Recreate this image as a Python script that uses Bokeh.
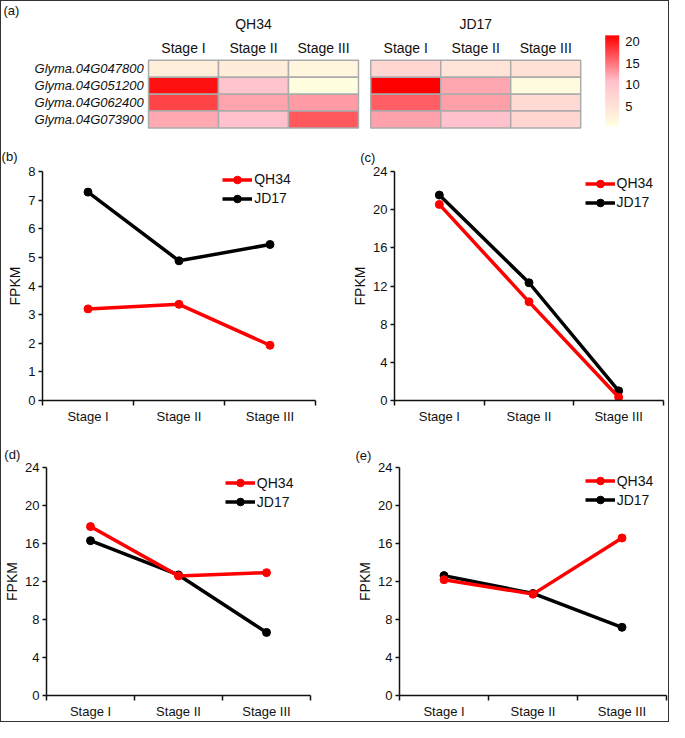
import numpy as np
from bokeh.plotting import figure
from bokeh.models import (Range1d, LinearColorMapper, ColorBar, FixedTicker,
                          Label, Legend, LegendItem, ColumnDataSource)
from bokeh.layouts import column, row
from bokeh.core.properties import value
from bokeh.embed import file_html
from bokeh.resources import INLINE

# ---------------- data ----------------
stages = ["Stage I", "Stage II", "Stage III"]
cultivars = ["QH34", "JD17"]
genes = ["Glyma.04G047800", "Glyma.04G051200", "Glyma.04G062400", "Glyma.04G073900"]
panel_tags = ["(b)", "(c)", "(d)", "(e)"]

qh34_g047800 = [3.20, 3.36, 1.93]
jd17_g047800 = [7.28, 4.88, 5.45]
qh34_g051200 = [20.55, 10.34, 0.34]
jd17_g051200 = [21.53, 12.34, 1.01]
qh34_g062400 = [17.78, 12.59, 12.93]
jd17_g062400 = [16.30, 12.69, 6.64]
qh34_g073900 = [12.19, 10.67, 16.58]
jd17_g073900 = [12.62, 10.74, 7.18]

qh34_series = [qh34_g047800, qh34_g051200, qh34_g062400, qh34_g073900]
jd17_series = [jd17_g047800, jd17_g051200, jd17_g062400, jd17_g073900]

y_axis_max = [8, 24, 24, 24]
y_axis_step = [1, 4, 4, 4]
colorbar_ticks = [5, 10, 15, 20]

# ---------------- layout / style ----------------
FONT = "Liberation Sans"
REF_W, REF_H = 685, 738
W, H = 667, 720
SX, SY = W / REF_W, H / REF_H


def X(v):
    return v * SX


def Y(v):
    return v * SY


def ramp(cols, n=256):
    out = []
    for i in range(n):
        t = i / (n - 1) * (len(cols) - 1)
        k = min(int(t), len(cols) - 2)
        f = t - k
        c = [round(a + (b - a) * f) for a, b in zip(cols[k], cols[k + 1])]
        out.append("#%02x%02x%02x" % tuple(c))
    return out


palette = ramp([(255, 255, 224), (255, 192, 203), (255, 0, 0)])

# ---------------- heatmap (a) ----------------
top_ref_h = 140
top_h = round(Y(top_ref_h))
cell_w = 71.87
cells_x0 = 151.0
gap_units = 12.6 / cell_w
row_h = 17.33
cells_y0 = 60.0

hm = figure(width=W, height=top_h,
            x_range=Range1d(-cells_x0 / cell_w, (REF_W - cells_x0) / cell_w),
            y_range=Range1d((top_ref_h - cells_y0) / row_h, -cells_y0 / row_h),
            x_axis_location=None, y_axis_location=None,
            output_backend="svg", toolbar_location=None, min_border=0)
hm.grid.visible = False
hm.outline_line_color = None

hx, hy, hv = [], [], []
for gi, (q, j) in enumerate(zip(qh34_series, jd17_series)):
    for ci, series in enumerate([q, j]):
        for si, v in enumerate(series):
            hx.append(ci * (len(stages) + gap_units) + si + 0.5)
            hy.append(gi + 0.5)
            hv.append(v)
src = ColumnDataSource(dict(x=hx, y=hy, v=hv))
mapper = LinearColorMapper(palette=palette, low=min(hv), high=max(hv))
hm.rect(x="x", y="y", width=1, height=1, source=src,
        fill_color={"field": "v", "transform": mapper},
        line_color="#ABABAB", line_width=1.5)

hm.text(x=[0] * len(genes), y=[i + 0.5 for i in range(len(genes))], text=genes,
        x_offset=-X(5), text_align="right", text_baseline="middle",
        text_font=value(FONT), text_font_style="italic", text_font_size="13px",
        text_color="#111111")
sx_lab, st_lab = [], []
for ci in range(len(cultivars)):
    for si, s in enumerate(stages):
        sx_lab.append(ci * (len(stages) + gap_units) + si + 0.5)
        st_lab.append(s)
hm.text(x=sx_lab, y=[0] * len(sx_lab), text=st_lab, y_offset=-Y(12.3),
        text_align="center", text_baseline="middle",
        text_font=value(FONT), text_font_size="14px", text_color="#111111")
hm.text(x=[ci * (len(stages) + gap_units) + len(stages) / 2 for ci in range(len(cultivars))],
        y=[0] * len(cultivars), text=cultivars, y_offset=-Y(37.3),
        text_align="center", text_baseline="middle",
        text_font=value(FONT), text_font_size="14px", text_color="#111111")

cb = ColorBar(color_mapper=mapper, orientation="vertical",
              location=(X(620), top_h - Y(128)), width=round(X(14.3)), height=round(Y(93)),
              padding=0, margin=0, ticker=FixedTicker(ticks=colorbar_ticks),
              major_label_text_font=FONT, major_label_text_font_size="13px",
              major_label_text_color="#111111", label_standoff=6,
              major_tick_line_color=None, minor_tick_line_color=None,
              bar_line_color=None, border_line_color=None, background_fill_alpha=0)
hm.add_layout(cb)
hm.add_layout(Label(x=X(2), y=top_h - Y(9), x_units="screen", y_units="screen",
                    text="(a)", text_font=FONT, text_font_size="13px",
                    text_baseline="middle", text_color="#111111"))

# ---------------- line panels (b)-(e) ----------------
panel_boxes = [(0, 140, 342.5, 440), (342.5, 140, 685, 440),
               (0, 440, 342.5, 738), (342.5, 440, 685, 738)]
frame_boxes = [(42, 172.7, 322, 409.3), (403.3, 172.7, 680, 409.3),
               (43.3, 478.3, 316.7, 711), (408.3, 475, 683, 713.3)]
legend_left = [227, 599, 227, 599]
legend_first_row = [182.7, 186.7, 493, 493.3]
tag_pos = [(0, 153), (368, 155), (0, 463), (363, 462)]
LEG_ROW = 19.6


def line_panel(k):
    bx0, by0, bx1, by1 = panel_boxes[k]
    fx0, fy0, fx1, fy1 = frame_boxes[k]
    fw = round(X(bx1)) - round(X(bx0))
    fh = round(Y(by1)) - round(Y(by0))
    tx, ty = tag_pos[k]
    p = figure(width=fw, height=fh,
               x_range=Range1d(0, len(stages)), y_range=Range1d(0, y_axis_max[k]),
               output_backend="svg", toolbar_location=None,
               min_border_left=round(X(fx0 - bx0)), min_border_right=round(X(bx1 - fx1)),
               min_border_top=round(Y(fy0 - by0)), min_border_bottom=round(Y(by1 - fy1)))
    p.grid.visible = False
    p.outline_line_color = None

    # panel tag as the figure title, shifted left of the frame
    p.title.text = panel_tags[k]
    p.title.align = "left"
    p.title.offset = X(tx - fx0)
    p.title.standoff = max(0, round(Y(fy0 - ty) - 3))
    p.title.text_font = FONT
    p.title.text_font_size = "13px"
    p.title.text_font_style = "normal"
    p.title.text_color = "#111111"

    xs = [i + 0.5 for i in range(len(stages))]
    rj = p.line(xs, jd17_series[k], line_color="black", line_width=3.5)
    sj = p.scatter(xs, jd17_series[k], size=8, color="black")
    rq = p.line(xs, qh34_series[k], line_color="#FF0000", line_width=3.5)
    sq = p.scatter(xs, qh34_series[k], size=8, color="#FF0000")

    for ax in (p.xaxis[0], p.yaxis[0]):
        ax.axis_line_width = 1.5
        ax.axis_line_color = "#111111"
        ax.major_label_text_font = FONT
        ax.major_label_text_font_size = "13px"
        ax.major_label_text_color = "#111111"

    xa = p.xaxis[0]
    xa.ticker = FixedTicker(ticks=xs, minor_ticks=list(range(len(stages) + 1)))
    xa.major_label_overrides = {x: s for x, s in zip(xs, stages)}
    xa.major_tick_line_color = None
    xa.major_tick_out = 0
    xa.major_tick_in = 0
    xa.minor_tick_out = 5
    xa.minor_tick_in = 0
    xa.minor_tick_line_color = "#111111"
    xa.minor_tick_line_width = 1.5
    xa.major_label_standoff = 3

    ya = p.yaxis[0]
    ya.ticker = FixedTicker(ticks=list(range(0, y_axis_max[k] + 1, y_axis_step[k])))
    ya.major_tick_out = 4
    ya.major_tick_in = 0
    ya.major_tick_line_width = 1.5
    ya.major_tick_line_color = "#111111"
    ya.minor_tick_line_color = None
    ya.major_label_standoff = 3
    ya.axis_label = "FPKM"
    ya.axis_label_text_font = FONT
    ya.axis_label_text_font_size = "14px"
    ya.axis_label_text_font_style = "normal"
    ya.axis_label_text_color = "#111111"
    ya.axis_label_standoff = 2

    row_px = round(Y(LEG_ROW))
    leg_top = legend_first_row[k] - LEG_ROW / 2
    leg_bottom = leg_top + 2 * LEG_ROW
    legend = Legend(items=[LegendItem(label=cultivars[0], renderers=[rq, sq]),
                           LegendItem(label=cultivars[1], renderers=[rj, sj])],
                    location=(X(legend_left[k] - fx0), Y(fy1 - leg_bottom)),
                    glyph_width=round(X(31)), glyph_height=row_px, label_height=row_px,
                    label_standoff=2, padding=0, spacing=0, margin=0,
                    border_line_color=None, background_fill_alpha=0,
                    label_text_font=FONT, label_text_font_size="14px",
                    label_text_color="#111111")
    p.add_layout(legend)
    return p


panels = [line_panel(k) for k in range(4)]

layout = column(hm, row(panels[0], panels[1]), row(panels[2], panels[3]),
                styles={"border": "1px solid #333333"})

open("out.html", "w").write(file_html(layout, INLINE))
